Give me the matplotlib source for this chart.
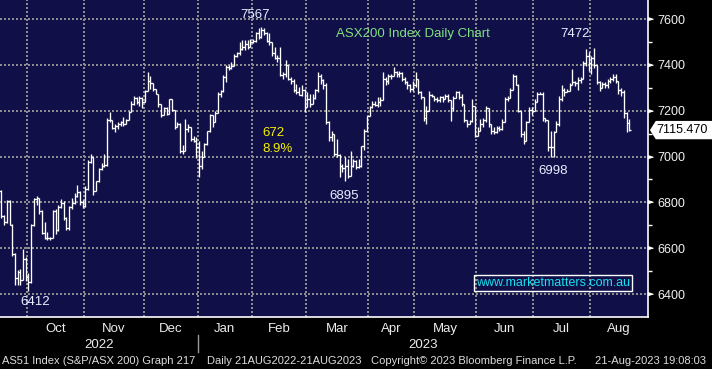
import numpy as np
import pandas as pd
import matplotlib
matplotlib.use('Agg')
import matplotlib.pyplot as plt
from matplotlib.patches import Polygon

plt.rcParams['font.family'] = ['Liberation Sans', 'DejaVu Sans']

# ASX200 daily bars 15 Sep 2022 - 21 Aug 2023
holidays = ['2022-09-22', '2022-12-26', '2022-12-27', '2023-01-02', '2023-01-26',
            '2023-04-07', '2023-04-10', '2023-04-25', '2023-06-12']
dates = pd.bdate_range('2022-09-15', '2023-08-21')
dates = dates[~dates.isin(pd.to_datetime(holidays))]

closes = [
    6850, 6739, 6715, 6806, 6702, 6575, 6470, 6495, 6462, 6555, 6474,  # Sep
    6452, 6700, 6815, 6817, 6762, 6667, 6645, 6646, 6643, 6764, 6678, 6780, 6798, 6730, 6690,
    6780, 6799, 6830, 6845, 6800, 6785,  # Oct
    6860, 6976, 6998, 6850, 6892, 6945, 6960, 6963, 7158, 7160, 7125, 7135, 7140, 7150, 7140,
    7160, 7195, 7230, 7255, 7240, 7255, 7240,  # Nov
    7285, 7330, 7320, 7295, 7275, 7229, 7180, 7213, 7185, 7250, 7205, 7130, 7140, 7024, 7025,
    7120, 7130, 7075, 7070, 7040,  # Dec
    6960, 7000, 7055, 7110, 7180, 7150, 7190, 7275, 7284, 7345, 7390, 7385, 7395, 7440, 7450,
    7470, 7480, 7490, 7480, 7500,  # Jan
    7505, 7540, 7520, 7550, 7540, 7505, 7500, 7450, 7430, 7430, 7355, 7360, 7400, 7340, 7330,
    7290, 7280, 7270, 7290, 7215,  # Feb
    7250, 7230, 7255, 7290, 7350, 7335, 7310, 7150, 7085, 7100, 7010, 7005, 6960, 6950, 6960,
    6915, 6960, 6980, 6955, 6960, 7045, 7110, 7175,  # Mar
    7215, 7230, 7225, 7240, 7245, 7340, 7330, 7350, 7350, 7370, 7360, 7365, 7340, 7325, 7310,
    7295, 7310,  # Apr
    7340, 7280, 7260, 7170, 7200, 7270, 7265, 7250, 7245, 7260, 7250, 7265, 7245, 7210, 7255,
    7280, 7260, 7230, 7160, 7140, 7155, 7220, 7090,  # May
    7110, 7140, 7160, 7210, 7140, 7110, 7105, 7125, 7120, 7150, 7250, 7255, 7290, 7350, 7312,
    7200, 7100, 7070, 7150, 7205, 7200,  # Jun
    7240, 7275, 7275, 7170, 7160, 7040, 7040, 7105, 7140, 7250, 7290, 7280, 7285, 7310, 7325,
    7320, 7335, 7340, 7410, 7440, 7410,  # Jul
    7430, 7400, 7325, 7300, 7315, 7310, 7330, 7340, 7345, 7330, 7290, 7280, 7192, 7148,
    7115.47,  # Aug
]
highs = [
    6885, 6855, 6745, 6810, 6810, 6705, 6578, 6505, 6510, 6595, 6560,
    6490, 6705, 6820, 6828, 6820, 6765, 6715, 6670, 6650, 6768, 6770, 6790, 6815, 6805, 6735,
    6785, 6820, 6840, 6875, 6850, 6810,
    6870, 6985, 7010, 6998, 6895, 6950, 6970, 7010, 7170, 7195, 7160, 7140, 7150, 7157, 7171,
    7165, 7200, 7244, 7265, 7258, 7265, 7258,
    7290, 7370, 7352, 7323, 7295, 7275, 7229, 7218, 7215, 7252, 7250, 7205, 7150, 7145, 7050,
    7165, 7140, 7130, 7090, 7085,
    7070, 7025, 7060, 7113, 7186, 7180, 7200, 7281, 7290, 7354, 7398, 7398, 7412, 7449, 7457,
    7500, 7508, 7508, 7508, 7515,
    7515, 7545, 7560, 7567, 7560, 7545, 7537, 7500, 7480, 7442, 7480, 7370, 7420, 7400, 7347,
    7340, 7318, 7303, 7310, 7296,
    7281, 7274, 7274, 7296, 7370, 7362, 7340, 7323, 7155, 7113, 7100, 7075, 7010, 6968, 6997,
    6990, 7026, 6990, 6985, 6990, 7048, 7120, 7178,
    7222, 7244, 7244, 7258, 7258, 7367, 7345, 7359, 7359, 7390, 7375, 7375, 7367, 7345, 7330,
    7316, 7330,
    7367, 7340, 7285, 7260, 7222, 7287, 7272, 7265, 7258, 7265, 7265, 7272, 7272, 7245, 7265,
    7287, 7287, 7272, 7230, 7160, 7160, 7250, 7222,
    7130, 7165, 7170, 7222, 7212, 7140, 7128, 7135, 7135, 7164, 7258, 7265, 7301, 7362, 7355,
    7316, 7200, 7113, 7157, 7215, 7215,
    7251, 7280, 7280, 7280, 7170, 7160, 7110, 7113, 7157, 7265, 7310, 7301, 7294, 7323, 7381,
    7330, 7345, 7345, 7417, 7468, 7454,
    7439, 7472, 7400, 7330, 7325, 7325, 7340, 7345, 7360, 7360, 7330, 7301, 7290, 7195, 7164,
]
lows = [
    6830, 6730, 6700, 6712, 6700, 6565, 6440, 6440, 6440, 6460, 6455,
    6412, 6450, 6698, 6790, 6750, 6660, 6640, 6638, 6635, 6643, 6660, 6675, 6775, 6725, 6680,
    6678, 6770, 6795, 6825, 6790, 6775,
    6780, 6855, 6970, 6831, 6850, 6890, 6940, 6955, 6960, 7150, 7120, 7105, 7120, 7135, 7135,
    7140, 7160, 7195, 7225, 7229, 7222, 7210,
    7240, 7285, 7294, 7287, 7272, 7215, 7171, 7180, 7180, 7185, 7200, 7120, 7127, 7015, 7010,
    7025, 7105, 7069, 7065, 6995,
    6910, 6945, 7000, 7050, 7105, 7130, 7150, 7190, 7260, 7280, 7325, 7376, 7380, 7395, 7435,
    7445, 7465, 7465, 7470, 7480,
    7495, 7500, 7515, 7518, 7530, 7500, 7486, 7440, 7427, 7413, 7350, 7340, 7347, 7332, 7318,
    7281, 7274, 7267, 7265, 7193,
    7215, 7215, 7230, 7250, 7280, 7318, 7296, 7140, 7070, 7070, 7004, 7000, 6910, 6932, 6895,
    6905, 6915, 6954, 6946, 6950, 6955, 7030, 7110,
    7175, 7210, 7220, 7215, 7222, 7245, 7310, 7316, 7337, 7350, 7345, 7345, 7330, 7316, 7294,
    7280, 7287,
    7305, 7272, 7250, 7157, 7142, 7200, 7258, 7244, 7236, 7236, 7236, 7250, 7236, 7157, 7200,
    7255, 7250, 7222, 7149, 7128, 7140, 7150, 7084,
    7088, 7110, 7128, 7149, 7128, 7099, 7099, 7104, 7113, 7118, 7150, 7244, 7255, 7290, 7310,
    7193, 7084, 7055, 7070, 7150, 7180,
    7200, 7236, 7272, 7157, 7150, 7026, 7000, 6998, 7105, 7135, 7244, 7265, 7280, 7285, 7310,
    7308, 7290, 7323, 7340, 7396, 7374,
    7360, 7388, 7316, 7287, 7300, 7300, 7300, 7323, 7330, 7323, 7272, 7265, 7170, 7106, 7113,
]

levels = [6400, 6600, 6800, 7000, 7200, 7400, 7600]
minor_levels = [6500, 6700, 6900, 7100, 7300, 7500]
last_price = '7115.470'

n = len(closes)
x = np.arange(n)

fig = plt.figure(figsize=(7.12, 3.69), dpi=100, facecolor='black')
ax = fig.add_axes([0, 52 / 369, 648 / 712, 317 / 369])
ax.set_facecolor('#100f48')
ax.set_xlim(0.47, 239.9)
ax.set_ylim(6300, 7683)

grid_kw = dict(color='#8c8c8c', lw=1.44, ls=(0, (1, 1)), zorder=1)
for v in levels:
    ax.axhline(v, **grid_kw)

# month boundaries
month_id = dates.year * 12 + dates.month
starts = [0] + [i for i in range(1, n) if month_id[i] != month_id[i - 1]]
bounds = [s - 0.5 for s in starts[1:]]
for b in bounds:
    ax.axvline(b, **grid_kw)

# OHLC-style bars: high-low stick plus close tick
ax.vlines(x, lows, highs, color='white', lw=0.95, zorder=3)
ax.hlines(closes, x, np.minimum(x + 1, n - 0.5), color='white', lw=0.95, zorder=3)

for s in ['top', 'left']:
    ax.spines[s].set_visible(False)
for s in ['bottom', 'right']:
    ax.spines[s].set_color('white')
    ax.spines[s].set_linewidth(1.2)

ax.set_xticks([])
ax.yaxis.tick_right()
ax.set_yticks(levels)
ax.set_yticklabels([str(v) for v in levels])
ax.set_yticks(minor_levels, minor=True)
ax.tick_params(axis='y', which='major', length=0, pad=7, labelsize=9, labelcolor='#f2f2f2')
ax.tick_params(axis='y', which='minor', length=3, width=1, color='white')
ax.plot(np.full(len(levels), 1.0), levels, ls='none',
        marker=[(0, -1), (0, 1), (3, 0)], ms=7, color='white',
        transform=ax.get_yaxis_transform(), clip_on=False)

# last price box
yt = ax.get_yaxis_transform()
lp = float(last_price)
ax.add_patch(Polygon([(1.003, lp), (1.012, lp + 40), (1.2, lp + 40), (1.2, lp - 40), (1.012, lp - 40)],
                     closed=True, facecolor='white', edgecolor='none', transform=yt, clip_on=False))
ax.text(1.0135, lp, last_price, transform=yt, color='black', fontsize=9, va='center', ha='left')

# month and year labels
xt = ax.get_xaxis_transform()
ends = bounds + [239.9]
begins = [0.47] + bounds
for b0, b1, s in zip(begins, ends, starts):
    if s == 0:
        continue
    ax.text((b0 + b1) / 2, -0.037, dates[s].strftime('%b'), transform=xt, ha='center', va='center',
            fontsize=9.5, color='#ececec')
jan = bounds[3]
ax.text((0.47 + jan) / 2, -0.088, '2022', transform=xt, ha='center', va='center', fontsize=9.5, color='#ececec')
ax.text((jan + 239.9) / 2, -0.088, '2023', transform=xt, ha='center', va='center', fontsize=9.5, color='#ececec')
ax.plot([jan, jan], [-0.057, -0.110], color='#9a9a9a', lw=1, transform=xt, clip_on=False)

# annotations
lab = dict(fontsize=9.5, va='center')
ax.text(94.7, 7617, '7567', color='#e8f0ff', ha='center', **lab)
ax.text(212.9, 7535, '7472', color='#e8f0ff', ha='center', **lab)
ax.text(127.6, 6828, '6895', color='#e8f0ff', ha='center', **lab)
ax.text(204.8, 6937, '6998', color='#e8f0ff', ha='center', **lab)
ax.text(13.4, 6365, '6412', color='#e8f0ff', ha='center', **lab)
ax.text(124.6, 7535, 'ASX200 Index Daily Chart', color='#7fe07f', ha='left', **lab)
ax.text(97.3, 7102, '672', color='#f2f200', ha='left', **lab)
ax.text(97.3, 7033, '8.9%', color='#f2f200', ha='left', **lab)
ax.text(204.8, 6448, 'www.marketmatters.com.au', color='#19e0f0', ha='center', fontsize=9, va='center',
        bbox=dict(boxstyle='square,pad=0.18', facecolor='none', edgecolor='white', lw=1))

# footer
foot = dict(fontsize=8, color='#dcdcdc', va='center', ha='left')
fy = (369 - 361) / 369
fig.text(2 / 712, fy, 'AS51 Index (S&P/ASX 200) Graph 217', **foot)
fig.text(207 / 712, fy, 'Daily 21AUG2022-21AUG2023', **foot)
fig.text(371 / 712, fy, 'Copyright\u00a9 2023 Bloomberg Finance L.P.', **foot)
fig.text(595 / 712, fy, '21-Aug-2023 19:08:03', **foot)

fig.savefig('out.png', dpi=100, facecolor='black')
